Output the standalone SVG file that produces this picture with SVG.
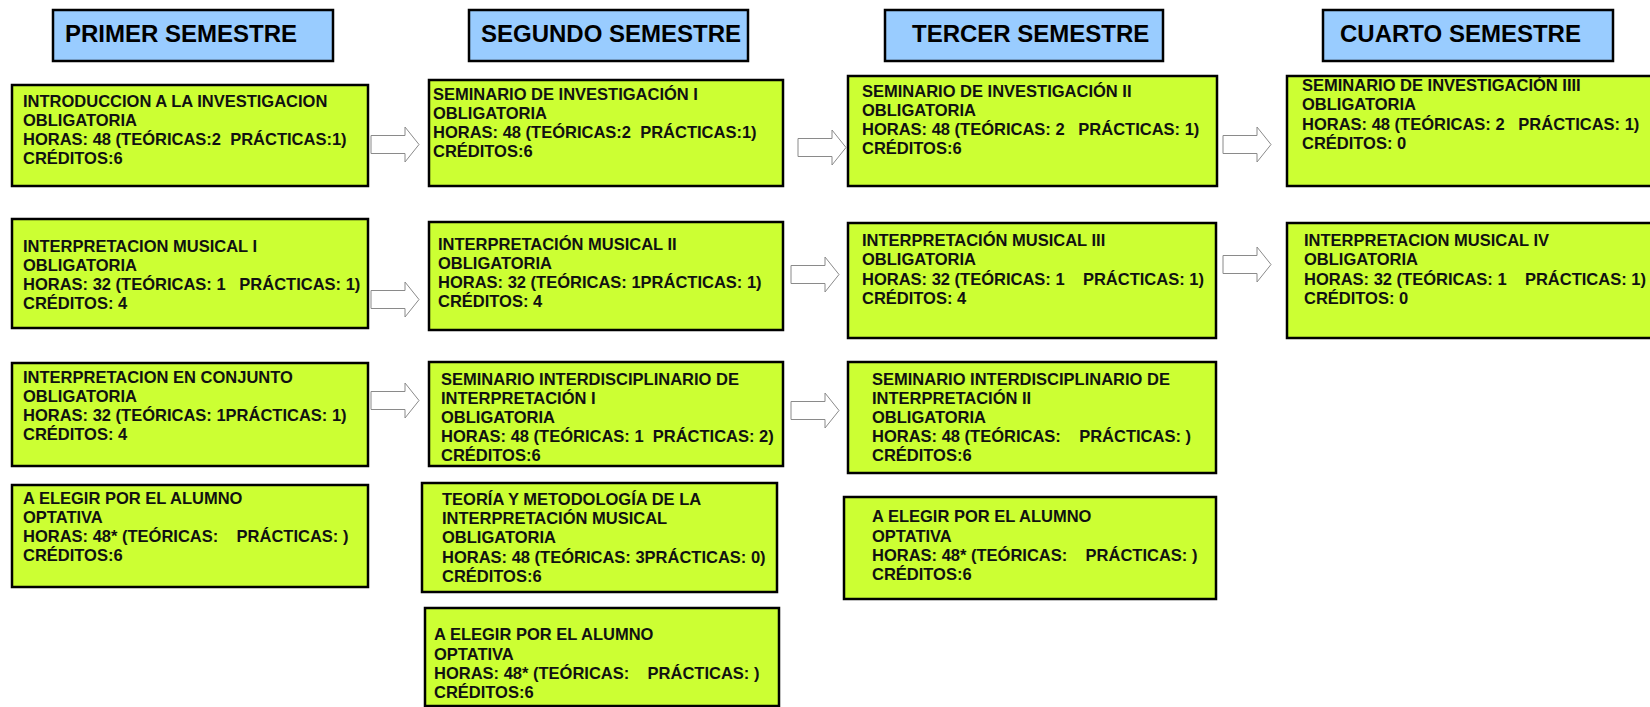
<svg xmlns="http://www.w3.org/2000/svg" xmlns:xlink="http://www.w3.org/1999/xlink" width="1650" height="707" viewBox="0 0 1650 707">
<style>
.hdr{fill:#99CCFF;stroke:#000;stroke-width:2.5}
.hdrt{font-family:"Liberation Sans",Arial,sans-serif;font-weight:bold;font-size:24px;fill:#000}
.box{fill:#CCFF33;stroke:#000;stroke-width:2.5}
.t{font-family:"Liberation Sans",Arial,sans-serif;font-weight:bold;font-size:16.5px;fill:#111;white-space:pre}
.arr{fill:#fff;stroke:#8a8a8a;stroke-width:1}
</style>
<defs>
<path id="arrow" class="arr" d="M0,8.5 H34 V0 L48,17.5 L34,35 V26.5 H0 Z"/>
</defs>
<rect width="1650" height="707" fill="#fff"/>
<g id="h1"><rect class="hdr" x="53" y="10" width="280" height="51"/><text class="hdrt" x="65" y="42">PRIMER SEMESTRE</text></g>
<g id="h2"><rect class="hdr" x="469" y="10" width="279" height="51"/><text class="hdrt" x="481" y="42">SEGUNDO SEMESTRE</text></g>
<g id="h3"><rect class="hdr" x="885" y="10" width="278" height="51"/><text class="hdrt" x="912" y="42">TERCER SEMESTRE</text></g>
<g id="h4"><rect class="hdr" x="1323" y="10" width="290" height="51"/><text class="hdrt" x="1340" y="42">CUARTO SEMESTRE</text></g>

<g id="b1"><rect class="box" x="12" y="85" width="356" height="101"/>
<text class="t" x="23" y="107">INTRODUCCION A LA INVESTIGACION</text><text class="t" x="23" y="126">OBLIGATORIA</text><text class="t" x="23" y="145">HORAS: 48 (TEÓRICAS:2  PRÁCTICAS:1)</text><text class="t" x="23" y="164">CRÉDITOS:6</text></g>
<g id="b2"><rect class="box" x="12" y="219" width="356" height="109"/>
<text class="t" x="23" y="252">INTERPRETACION MUSICAL I</text><text class="t" x="23" y="271">OBLIGATORIA</text><text class="t" x="23" y="290">HORAS: 32 (TEÓRICAS: 1   PRÁCTICAS: 1)</text><text class="t" x="23" y="309">CRÉDITOS: 4</text></g>
<g id="b3"><rect class="box" x="12" y="363" width="356" height="103"/>
<text class="t" x="23" y="383">INTERPRETACION EN CONJUNTO</text><text class="t" x="23" y="402">OBLIGATORIA</text><text class="t" x="23" y="421">HORAS: 32 (TEÓRICAS: 1PRÁCTICAS: 1)</text><text class="t" x="23" y="440">CRÉDITOS: 4</text></g>
<g id="b4"><rect class="box" x="12" y="485" width="356" height="102"/>
<text class="t" x="23" y="504">A ELEGIR POR EL ALUMNO</text><text class="t" x="23" y="523">OPTATIVA</text><text class="t" x="23" y="542">HORAS: 48* (TEÓRICAS:    PRÁCTICAS: )</text><text class="t" x="23" y="561">CRÉDITOS:6</text></g>

<g id="c1"><rect class="box" x="429" y="80" width="354" height="106"/>
<text class="t" x="433" y="100">SEMINARIO DE INVESTIGACIÓN I</text><text class="t" x="433" y="119">OBLIGATORIA</text><text class="t" x="433" y="138">HORAS: 48 (TEÓRICAS:2  PRÁCTICAS:1)</text><text class="t" x="433" y="157">CRÉDITOS:6</text></g>
<g id="c2"><rect class="box" x="429" y="222" width="354" height="108"/>
<text class="t" x="438" y="250">INTERPRETACIÓN MUSICAL II</text><text class="t" x="438" y="269">OBLIGATORIA</text><text class="t" x="438" y="288">HORAS: 32 (TEÓRICAS: 1PRÁCTICAS: 1)</text><text class="t" x="438" y="307">CRÉDITOS: 4</text></g>
<g id="c3"><rect class="box" x="429" y="362" width="354" height="104"/>
<text class="t" x="441" y="385">SEMINARIO INTERDISCIPLINARIO DE</text><text class="t" x="441" y="404">INTERPRETACIÓN I</text><text class="t" x="441" y="423">OBLIGATORIA</text><text class="t" x="441" y="442">HORAS: 48 (TEÓRICAS: 1  PRÁCTICAS: 2)</text><text class="t" x="441" y="461">CRÉDITOS:6</text></g>
<g id="c4"><rect class="box" x="422" y="483" width="355" height="109"/>
<text class="t" x="442" y="505">TEORÍA Y METODOLOGÍA DE LA</text><text class="t" x="442" y="524">INTERPRETACIÓN MUSICAL</text><text class="t" x="442" y="543">OBLIGATORIA</text><text class="t" x="442" y="563">HORAS: 48 (TEÓRICAS: 3PRÁCTICAS: 0)</text><text class="t" x="442" y="582">CRÉDITOS:6</text></g>
<g id="c5"><rect class="box" x="425" y="608" width="354" height="98"/>
<text class="t" x="434" y="640">A ELEGIR POR EL ALUMNO</text><text class="t" x="434" y="660">OPTATIVA</text><text class="t" x="434" y="679">HORAS: 48* (TEÓRICAS:    PRÁCTICAS: )</text><text class="t" x="434" y="698">CRÉDITOS:6</text></g>

<g id="d1"><rect class="box" x="848" y="76" width="369" height="110"/>
<text class="t" x="862" y="97">SEMINARIO DE INVESTIGACIÓN II</text><text class="t" x="862" y="116">OBLIGATORIA</text><text class="t" x="862" y="135">HORAS: 48 (TEÓRICAS: 2   PRÁCTICAS: 1)</text><text class="t" x="862" y="154">CRÉDITOS:6</text></g>
<g id="d2"><rect class="box" x="848" y="223" width="368" height="115"/>
<text class="t" x="862" y="246">INTERPRETACIÓN MUSICAL III</text><text class="t" x="862" y="265">OBLIGATORIA</text><text class="t" x="862" y="285">HORAS: 32 (TEÓRICAS: 1    PRÁCTICAS: 1)</text><text class="t" x="862" y="304">CRÉDITOS: 4</text></g>
<g id="d3"><rect class="box" x="848" y="362" width="368" height="111"/>
<text class="t" x="872" y="385">SEMINARIO INTERDISCIPLINARIO DE</text><text class="t" x="872" y="404">INTERPRETACIÓN II</text><text class="t" x="872" y="423">OBLIGATORIA</text><text class="t" x="872" y="442">HORAS: 48 (TEÓRICAS:    PRÁCTICAS: )</text><text class="t" x="872" y="461">CRÉDITOS:6</text></g>
<g id="d4"><rect class="box" x="844" y="497" width="372" height="102"/>
<text class="t" x="872" y="522">A ELEGIR POR EL ALUMNO</text><text class="t" x="872" y="542">OPTATIVA</text><text class="t" x="872" y="561">HORAS: 48* (TEÓRICAS:    PRÁCTICAS: )</text><text class="t" x="872" y="580">CRÉDITOS:6</text></g>

<g id="e1"><rect class="box" x="1287" y="76" width="365" height="110"/>
<text class="t" x="1302" y="91">SEMINARIO DE INVESTIGACIÓN IIII</text><text class="t" x="1302" y="110">OBLIGATORIA</text><text class="t" x="1302" y="130">HORAS: 48 (TEÓRICAS: 2   PRÁCTICAS: 1)</text><text class="t" x="1302" y="149">CRÉDITOS: 0</text></g>
<g id="e2"><rect class="box" x="1287" y="223" width="365" height="115"/>
<text class="t" x="1304" y="246">INTERPRETACION MUSICAL IV</text><text class="t" x="1304" y="265">OBLIGATORIA</text><text class="t" x="1304" y="285">HORAS: 32 (TEÓRICAS: 1    PRÁCTICAS: 1)</text><text class="t" x="1304" y="304">CRÉDITOS: 0</text></g>

<g id="connectors">
<use xlink:href="#arrow" x="371" y="127"/>
<use xlink:href="#arrow" x="798" y="130"/>
<use xlink:href="#arrow" x="1223" y="127"/>
<use xlink:href="#arrow" x="371" y="282"/>
<use xlink:href="#arrow" x="791" y="257"/>
<use xlink:href="#arrow" x="1223" y="247"/>
<use xlink:href="#arrow" x="371" y="383"/>
<use xlink:href="#arrow" x="791" y="393"/>
</g>
</svg>
